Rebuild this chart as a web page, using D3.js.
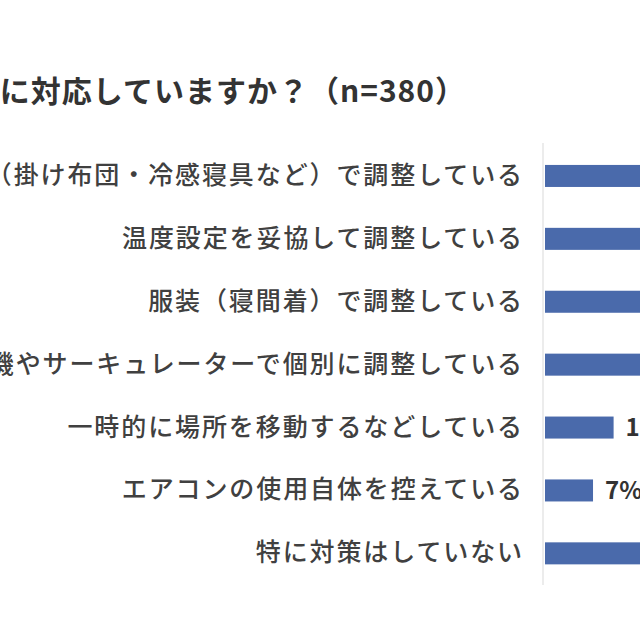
<!DOCTYPE html>
<html>
<head>
<meta charset="utf-8">
<script src="https://d3js.org/d3.v7.min.js"></script>
<style>
  body { margin: 0; background: #fff; overflow: hidden; }
  text { font-family: "Noto Sans CJK JP", "Noto Sans", sans-serif; }
</style>
</head>
<body>
<script>
// data
var categories = [
  "寝具（掛け布団・冷感寝具など）で調整している",
  "温度設定を妥協して調整している",
  "服装（寝間着）で調整している",
  "扇風機やサーキュレーターで個別に調整している",
  "一時的に場所を移動するなどしている",
  "エアコンの使用自体を控えている",
  "特に対策はしていない"
];
var values = [38, 33, 27, 21, 10, 7, 24];
var title = "どのように対応していますか？（n=380）";

var width = 640, height = 640;

var svg = d3.select("body").append("svg")
    .attr("width", width)
    .attr("height", height);

svg.append("rect").attr("width", width).attr("height", height).attr("fill", "#fff");

// scales
var y = d3.scaleBand()
    .domain(categories)
    .range([144.5, 584.8])
    .paddingInner(0.65)
    .paddingOuter(0.325);

var x = d3.scaleLinear()
    .domain([0, 50])
    .range([545, 545 + 343]);

// title (left part cut off by the frame)
svg.append("text")
    .attr("x", 466)
    .attr("y", 102)
    .attr("text-anchor", "end")
    .style("font-size", "30px")
    .style("font-weight", "700")
    .style("letter-spacing", "1px")
    .style("fill", "#333")
    .text(title);

// axis line
svg.append("line")
    .attr("x1", 543).attr("x2", 543)
    .attr("y1", 143).attr("y2", 585)
    .attr("stroke", "#d9d9d9")
    .attr("stroke-width", 1);

// category labels
svg.selectAll(".cat")
    .data(categories)
  .enter().append("text")
    .attr("class", "cat")
    .attr("x", 524)
    .attr("y", d => y(d) + y.bandwidth() / 2)
    .attr("dy", "0.32em")
    .attr("text-anchor", "end")
    .style("font-size", "25px")
    .style("font-weight", "500")
    .style("letter-spacing", "1.9px")
    .style("fill", "#404040")
    .text(d => d);

// bars
svg.selectAll(".bar")
    .data(values)
  .enter().append("rect")
    .attr("class", "bar")
    .attr("x", x(0))
    .attr("y", (d, i) => y(categories[i]))
    .attr("width", d => x(d) - x(0))
    .attr("height", y.bandwidth())
    .attr("fill", "#4a6aab");

// value labels
svg.selectAll(".val")
    .data(values)
  .enter().append("text")
    .attr("class", "val")
    .attr("x", d => x(d) + 12)
    .attr("y", (d, i) => y(categories[i]) + y.bandwidth() / 2)
    .attr("dy", "0.36em")
    .style("font-size", "24px")
    .style("font-weight", "700")
    .style("fill", "#333")
    .text(d => d + "%");
</script>
</body>
</html>
